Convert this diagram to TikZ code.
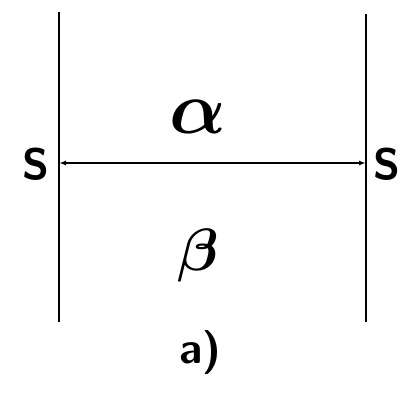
\documentclass[tikz,border=0pt]{standalone}
\usepackage{bm}
\usetikzlibrary{arrows.meta}
\begin{document}
\begin{tikzpicture}[x=1pt,y=-1pt,
  wall/.style={line width=1.8pt},
  link/.style={line width=1.8pt,{Latex[length=7pt,width=5pt]}-{Latex[length=7pt,width=5pt]}},
  lbl/.style={inner sep=0pt,font=\sffamily\bfseries\fontsize{44}{44}\selectfont},
  greek/.style={inner sep=0pt,font=\Huge}]
\useasboundingbox (0,0) rectangle (405,396);
\coordinate (lt) at (59,12);
\coordinate (lb) at (59,322);
\coordinate (rt) at (366,14);
\coordinate (rb) at (366,322);
\draw[wall] (lt) -- (lb);
\draw[wall] (rt) -- (rb);
\coordinate (la) at (59,163);
\coordinate (ra) at (366,163);
\draw[link] (la) -- (ra);
\node[lbl] (sl) at (36,164) {S};
\node[lbl] (sr) at (387,164) {S};
\node[greek,scale=3] (al) at (198,117) {$\bm{\alpha}$};
\node[greek,scale=2.4] (be) at (198,256) {$\bm{\beta}$};
\node[lbl] (cap) at (200,352) {a)};
\end{tikzpicture}
\end{document}
